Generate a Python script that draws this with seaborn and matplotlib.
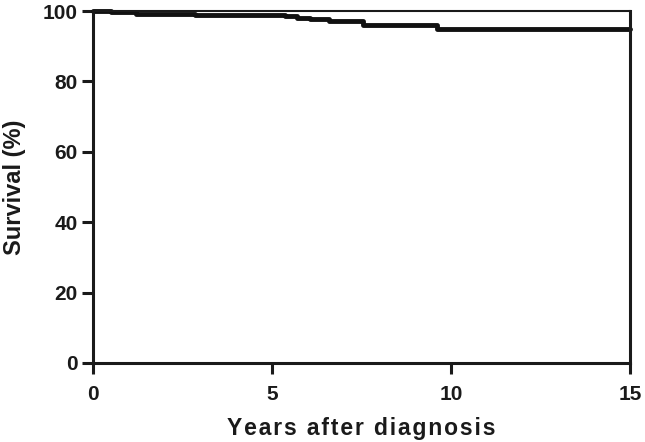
import matplotlib
matplotlib.use("Agg")
import matplotlib.pyplot as plt
import seaborn as sns
import pandas as pd

# Kaplan-Meier step data (years, survival %)
times = [0.0, 0.5, 1.2, 2.85, 5.35, 5.7, 6.05, 6.6, 7.55, 9.6, 15.0]
survival = [100.0, 99.6, 99.3, 99.0, 98.6, 98.1, 97.7, 97.2, 96.0, 94.9, 94.9]
x_ticks = [0, 5, 10, 15]
y_ticks = [0, 20, 40, 60, 80, 100]
x_label = "Years after diagnosis"
y_label = "Survival (%)"

sns.set_style("white")
plt.rcParams['font.family'] = ['Liberation Sans', 'DejaVu Sans']

df = pd.DataFrame({"Years": times, "Survival": survival})

fig = plt.figure(figsize=(6.45, 4.42), dpi=100)
ax = fig.add_axes([0.144, 0.179, 0.833, 0.796])
sns.lineplot(data=df, x="Years", y="Survival", drawstyle="steps-post",
             color="#111111", linewidth=3.5, ax=ax, clip_on=False)

ax.set_xlim(0, 15)
ax.set_ylim(0, 100)
ax.set_xticks(x_ticks)
ax.set_yticks(y_ticks)
ax.set_xticklabels([str(v) for v in x_ticks], fontsize=15, fontweight="bold", color="#1a1a1a")
ax.set_yticklabels([str(v) for v in y_ticks], fontsize=15, fontweight="bold", color="#1a1a1a")

def spaced(s):
    return "\u200a".join(s)

ax.set_xlabel(spaced(x_label), fontsize=16.5, fontweight="bold", color="#1a1a1a", labelpad=9)
ax.set_ylabel(y_label, fontsize=17, fontweight="bold", color="#1a1a1a", labelpad=12)

for side in ["left", "bottom", "right"]:
    ax.spines[side].set_linewidth(2.2)
    ax.spines[side].set_color("#1a1a1a")
ax.spines["top"].set_linewidth(1.5)
ax.spines["top"].set_color("#1a1a1a")

ax.tick_params(axis="both", direction="out", length=8, width=2.2, color="#1a1a1a",
               bottom=True, left=True, top=False, right=False)
ax.tick_params(axis="x", pad=8)
ax.tick_params(axis="y", pad=3)
ax.grid(False)

fig.savefig("out.png", dpi=100)
